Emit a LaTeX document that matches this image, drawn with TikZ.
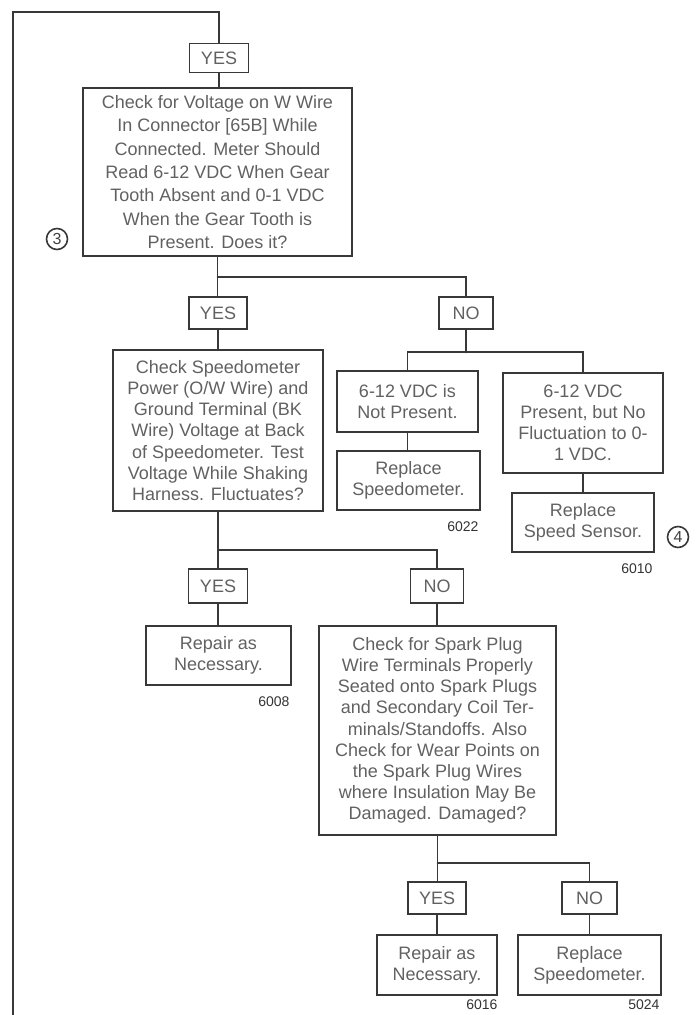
\documentclass[tikz,border=0pt]{standalone}
\usepackage{fontspec}
\setmainfont{Liberation Sans}
\usetikzlibrary{positioning}

\begin{document}
\begin{tikzpicture}[x=0.5pt,y=-0.5pt,line cap=round,
  every node/.style={text=black!62},
  wire/.style={draw=black!78,line width=0.9pt},
  stepbox/.style={draw=black!78,line width=0.9pt,align=center,inner sep=2pt,
    font=\fontsize{9}{10.6}\selectfont},
  answer/.style={draw=black!78,line width=0.9pt,inner sep=0pt,minimum height=16pt,
    font=\fontsize{9}{10.6}\selectfont},
  codelabel/.style={anchor=north east,inner sep=0pt,text=black!80,
    font=\fontsize{7}{8}\selectfont},
  refmark/.style={draw=black!78,line width=0.8pt,circle,minimum size=10.5pt,
    inner sep=0pt,text=black!75,font=\fontsize{8}{8}\selectfont}]

  \useasboundingbox (0,0) rectangle (697,1015);

  % ---- top question ----
  \node[answer,minimum width=29.5pt,minimum height=14.5pt] (yes0) at (219,58) {YES};
  \node[stepbox,minimum width=134.5pt,minimum height=84pt,
    font=\fontsize{9}{11.7}\selectfont] (q1) at (217.5,172)
    {Check for Voltage on W Wire\\In Connector [65B] While\\Connected. Meter Should\\Read 6-12 VDC When Gear\\Tooth Absent and 0-1 VDC\\When the Gear Tooth is\\Present. Does it?};
  \node[refmark] (m3) at (57,239) {3};

  % ---- first answers ----
  \node[answer,minimum width=29pt] (yes1) at (218,313) {YES};
  \node[answer,minimum width=27pt] (no1) at (466,313) {NO};

  % ---- NO branch ----
  \node[stepbox,minimum width=70.5pt,minimum height=30.5pt] (np) at (407.5,401.5)
    {6-12 VDC is\\Not Present.};
  \node[stepbox,minimum width=71.5pt,minimum height=29.5pt] (rs1) at (408.5,480.5)
    {Replace\\Speedometer.};
  \node[codelabel] (c6022) at ([xshift=-1pt,yshift=-5pt]rs1.south east) {6022};
  \node[stepbox,minimum width=80pt,minimum height=50pt] (nf) at (583,423)
    {6-12 VDC\\Present, but No\\Fluctuation to 0-\\1 VDC.};
  \node[stepbox,minimum width=71pt,minimum height=29.5pt] (rss) at (583,522.5)
    {Replace\\Speed Sensor.};
  \node[codelabel] (c6010) at ([xshift=-1pt,yshift=-5pt]rss.south east) {6010};
  \node[refmark] (m4) at (678,537) {4};

  % ---- YES branch ----
  \node[stepbox,minimum width=105pt,minimum height=80.5pt] (q2) at (218,430.5)
    {Check Speedometer\\Power (O/W Wire) and\\Ground Terminal (BK\\Wire) Voltage at Back\\of Speedometer. Test\\Voltage While Shaking\\Harness. Fluctuates?};
  \node[answer,minimum width=29.5pt,minimum height=17pt] (yes2) at (218,586) {YES};
  \node[answer,minimum width=26.5pt,minimum height=17pt] (no2) at (437,586) {NO};
  \node[stepbox,minimum width=72.5pt,minimum height=29.5pt] (rep1) at (218.5,655.5)
    {Repair as\\Necessary.};
  \node[codelabel] (c6008) at ([xshift=-1pt,yshift=-5pt]rep1.south east) {6008};

  % ---- spark plug wires ----
  \node[stepbox,minimum width=118.5pt,minimum height=104.5pt] (q3) at (437.5,730.5)
    {Check for Spark Plug\\Wire Terminals Properly\\Seated onto Spark Plugs\\and Secondary Coil Ter-\\minals/Standoffs. Also\\Check for Wear Points on\\the Spark Plug Wires\\where Insulation May Be\\Damaged. Damaged?};
  \node[answer,minimum width=29pt] (yes3) at (437,898) {YES};
  \node[answer,minimum width=27.5pt] (no3) at (589.5,898) {NO};
  \node[stepbox,minimum width=60pt,minimum height=30pt] (rep2) at (437,965)
    {Repair as\\Necessary.};
  \node[codelabel] (c6016) at ([yshift=-1.5pt]rep2.south east) {6016};
  \node[stepbox,minimum width=71.5pt,minimum height=30pt] (rs2) at (589.5,965)
    {Replace\\Speedometer.};
  \node[codelabel] (c5024) at ([xshift=-1pt,yshift=-1.5pt]rs2.south east) {5024};

  % ---- connectors ----
  \coordinate (loopbot) at (13,1015);
  \coordinate (looptop) at (13,12);
  \draw[wire] (loopbot) -- (looptop) -| (yes0.north);
  \draw[wire] (yes0.south) -- (yes0.south |- q1.north);

  \coordinate (b1) at ([yshift=-10pt]q1.south);
  \draw[wire] (q1.south) -- (q1.south |- yes1.north);
  \draw[wire] (b1) -| (no1.north);
  \draw[wire] (yes1.south) -- (yes1.south |- q2.north);

  \coordinate (b2) at ([yshift=-11.25pt]no1.south);
  \draw[wire] (no1.south) -- (b2);
  \draw[wire] (np.north) -- (np.north |- b2) -| (nf.north);
  \draw[wire] (np.south) -- (np.south |- rs1.north);
  \draw[wire] (nf.south) -- (rss.north);

  \coordinate (b3) at ([yshift=-19pt]q2.south);
  \draw[wire] (q2.south) -- (yes2.north);
  \draw[wire] (b3) -| (no2.north);
  \draw[wire] (yes2.south) -- (yes2.south |- rep1.north);
  \draw[wire] (no2.south) -- (no2.south |- q3.north);

  \coordinate (b4) at ([yshift=-13.5pt]q3.south);
  \draw[wire] (q3.south) -- (q3.south |- yes3.north);
  \draw[wire] (b4) -| (no3.north);
  \draw[wire] (yes3.south) -- (rep2.north);
  \draw[wire] (no3.south) -- (rs2.north);

\end{tikzpicture}
\end{document}
